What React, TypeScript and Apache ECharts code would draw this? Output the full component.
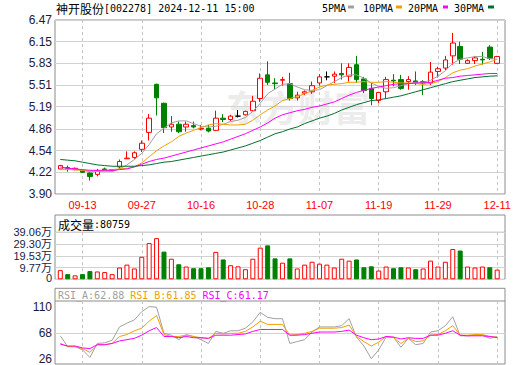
import React, { useEffect, useRef } from 'react';
import * as echarts from 'echarts';

const stockTitle = '神开股份';
const stockCode = '[002278] 2024-12-11 15:00';

const dates = ['09-10','09-11','09-12','09-13','09-18','09-19','09-20','09-23','09-24','09-25','09-26','09-27','09-30','10-08','10-09','10-10','10-11','10-14','10-15','10-16','10-17','10-18','10-21','10-22','10-23','10-24','10-25','10-28','10-29','10-30','10-31','11-01','11-04','11-05','11-06','11-07','11-08','11-11','11-12','11-13','11-14','11-15','11-18','11-19','11-20','11-21','11-22','11-25','11-26','11-27','11-28','11-29','12-02','12-03','12-04','12-05','12-06','12-09','12-10','12-11'];

const opens = [4.27,4.29,4.26,4.25,4.21,4.19,4.27,4.25,4.30,4.42, 4.44,4.56,4.81,5.52,5.24,4.89,4.93,4.89,4.91,4.86, 4.87,4.84,5.02,5.00,5.05,5.07,5.13,5.31,5.66,5.54, 5.58,5.53,5.32,5.39,5.41,5.54,5.63,5.64,5.68,5.64, 5.81,5.60,5.46,5.28,5.41,5.58,5.59,5.56,5.57,5.56, 5.54,5.71,5.76,5.94,6.08,5.83,5.87,5.89,6.07,5.83];
const closes = [4.32,4.27,4.28,4.22,4.16,4.24,4.26,4.26,4.38,4.43, 4.51,4.65,5.02,5.32,4.88,4.93,4.82,4.93,4.89,4.87, 4.83,5.02,5.00,5.05,5.05,5.12,5.27,5.61,5.55,5.53, 5.59,5.31,5.36,5.41,5.50,5.63,5.63,5.67,5.66,5.77, 5.59,5.43,5.31,5.40,5.59,5.57,5.46,5.59,5.54,5.54, 5.70,5.75,5.88,6.13,5.89,5.87,5.91,5.88,5.90,5.93];
const lows = [4.26,4.23,4.25,4.21,4.10,4.16,4.25,4.24,4.27,4.42, 4.42,4.52,4.69,5.06,4.80,4.82,4.80,4.82,4.87,4.84, 4.81,4.83,4.96,4.98,5.03,5.06,5.12,5.26,5.51,5.45, 5.50,5.28,5.28,5.36,5.38,5.50,5.58,5.54,5.59,5.56, 5.54,5.39,5.21,5.24,5.31,5.49,5.44,5.44,5.51,5.36, 5.51,5.62,5.73,5.81,5.82,5.82,5.82,5.81,5.88,5.82];
const highs = [4.33,4.32,4.29,4.26,4.22,4.27,4.29,4.27,4.41,4.53, 4.53,4.69,5.08,5.53,5.25,5.05,4.97,4.97,4.97,4.92, 4.92,5.13,5.08,5.07,5.14,5.13,5.35,5.68,5.86,5.61, 5.63,5.69,5.41,5.43,5.56,5.67,5.71,5.71,5.83,5.83, 5.94,5.63,5.54,5.41,5.63,5.67,5.66,5.64,5.71,5.58, 5.85,5.78,5.94,6.28,6.15,5.89,5.94,6.00,6.10,5.94];

const ma5 = [4.27,4.27,4.26,4.25,4.23,4.23,4.23,4.23,4.27,4.33, 4.41,4.50,4.63,4.79,4.87,4.95,4.98,4.98,4.94,4.90, 4.89,4.90,4.93,4.97,4.99,5.03,5.12,5.24,5.38,5.45, 5.52,5.53,5.48,5.44,5.43,5.44,5.50,5.56,5.62,5.66, 5.66,5.61,5.54,5.49,5.46,5.47,5.50,5.53,5.55,5.55, 5.58,5.64,5.72,5.83,5.89,5.91,5.93,5.93,5.90,5.89];
const ma10 = [4.26,4.26,4.26,4.25,4.24,4.24,4.25,4.26,4.27,4.28, 4.30,4.36,4.45,4.54,4.61,4.67,4.75,4.80,4.84,4.88, 4.92,4.94,4.93,4.92,4.92,4.93,4.99,5.07,5.14,5.20, 5.28,5.31,5.34,5.38,5.43,5.48,5.51,5.52,5.53,5.55, 5.55,5.56,5.55,5.55,5.56,5.55,5.54,5.54,5.53,5.52, 5.53,5.56,5.62,5.69,5.73,5.75,5.79,5.82,5.85,5.89];
const ma20 = [4.30,4.28,4.27,4.26,4.25,4.25,4.25,4.25,4.26,4.27, 4.30,4.34,4.38,4.41,4.43,4.46,4.49,4.52,4.55,4.58, 4.61,4.64,4.67,4.71,4.75,4.79,4.84,4.89,4.95,5.02, 5.07,5.10,5.13,5.15,5.18,5.20,5.23,5.26,5.31,5.36, 5.40,5.43,5.46,5.48,5.50,5.52,5.53,5.53,5.54,5.54, 5.55,5.58,5.61,5.62,5.64,5.65,5.66,5.67,5.68,5.68];
const ma30 = [4.41,4.40,4.39,4.37,4.35,4.33,4.32,4.31,4.31,4.31, 4.31,4.32,4.33,4.35,4.37,4.38,4.40,4.42,4.44,4.46, 4.48,4.50,4.52,4.55,4.58,4.61,4.65,4.69,4.74,4.79, 4.82,4.86,4.89,4.94,4.98,5.02,5.05,5.09,5.14,5.18, 5.22,5.25,5.28,5.29,5.31,5.33,5.35,5.38,5.41,5.44, 5.47,5.50,5.53,5.56,5.58,5.60,5.62,5.63,5.64,5.645];

const volumes = [76000,43000,33000,43000,68000,65000,60000,43000,98000,122000, 90000,187000,301000,342000,230000,171000,125000,106000,92000,92000, 100000,228000,165000,117000,108000,84000,171000,263000,282000,174000, 138000,174000,90000,122000,146000,130000,122000,98000,171000,155000, 165000,100000,108000,73000,106000,92000,100000,98000,84000,90000, 155000,106000,146000,252000,239000,106000,98000,106000,100000,80759];
// 1 = rose versus the previous close (red bar), 0 = fell (green bar)
const volumeUp = [1,0,1,0,0,1,1,1,1,1, 1,1,1,1,0,1,0,1,0,0, 0,1,0,1,1,1,1,1,0,0, 1,0,1,1,1,1,1,1,1,1, 0,0,0,1,1,0,0,1,0,1, 1,1,1,1,0,1,1,1,0,1];

const rsiA = [64,47,47,42,30,52,53,57,78,84, 89,102,110,109,68,65,58,66,63,58, 52,71,68,72,72,76,86,101,93,91, 91,52,55,58,70,78,78,78,80,91, 62,48,28,42,62,62,46,60,50,52, 70,72,80,94,64,64,65,65,60,62.88];
const rsiB = [52,47,47,44,38,50,50,52,63,66, 72,76,87,96,66,63,63,65,63,61, 60,68,67,68,68,71,78,87,82,82, 82,65,66,68,71,76,76,76,77,81, 63,55,48,54,63,61,52,60,55,56, 65,66,72,80,65,65,66,66,63,61.85];
const rsiC = [51,48,48,45,44,50,50,52,56,58, 60,65,72,77,63,63,61,63,61,61, 60,65,65,65,66,67,71,74,74,74, 74,65,65,66,68,70,70,70,71,73, 65,61,58,59,63,62,59,61,60,60, 65,65,68,72,65,64,64,64,63,61.17];

const priceTicks = [3.90, 4.22, 4.54, 4.86, 5.19, 5.51, 5.83, 6.15, 6.47];
const volumeTicks = [0, 97650, 195300, 292950, 390600];
const volumeTickLabels = ['0', '9.77万', '19.53万', '29.30万', '39.06万'];
const rsiTicks = [26, 68, 110];
const rsiRange = [19.7, 118.8];

const C_UP = '#ff0000';
const C_DOWN = '#008000';
const C_MA5 = '#a0a0a0';
const C_MA10 = '#f0a000';
const C_MA20 = '#ff00ff';
const C_MA30 = '#00702e';
const C_FRAME = '#8c8c8c';
const C_GRID = '#d2d2d2';
const C_DASH = '#c4c4c4';
const C_YLABEL = '#1a1a40';
const MONO = "'DejaVu Sans Mono', monospace";
const CJK = "'Noto Sans CJK SC', sans-serif";
const SANS = "'Liberation Sans', Arial, sans-serif";

const every8 = (i: number) => (i - 3) % 8 === 0;

export default function App() {
  const ref = useRef<HTMLDivElement>(null);
  useEffect(() => {
    if (!ref.current) return;
    const chart = echarts.init(ref.current, undefined, { renderer: 'svg' });

    const candleData = dates.map((_, i) => {
      const item: any = { value: [opens[i], closes[i], lows[i], highs[i]] };
      if (opens[i] === closes[i]) {
        item.itemStyle = { color: '#000', color0: '#000', borderColor: '#000', borderColor0: '#000' };
      }
      return item;
    });
    const volData = volumes.map((v, i) => ({
      value: v,
      itemStyle: volumeUp[i]
        ? { color: '#ffffff', borderColor: C_UP, borderWidth: 1 }
        : { color: C_DOWN, borderColor: C_DOWN, borderWidth: 1 },
    }));

    const frameL = 55, frameW = 450;
    const dataL = 60.3, dataW = 436.9;
    const volTop = 232.3, volH = 47;
    const volMax = volumeTicks[volumeTicks.length - 1];

    const hiddenValueX = (g: number) => ({ type: 'value', gridIndex: g, show: false, min: 0, max: 1 });
    const catX = (g: number, labels: boolean) => ({
      type: 'category', gridIndex: g, data: dates, boundaryGap: false,
      axisLine: { show: false }, axisTick: { show: false },
      axisLabel: labels
        ? { show: true, interval: every8, color: C_UP, fontSize: 11, fontFamily: SANS, margin: 5 }
        : { show: false },
      splitLine: { show: true, interval: every8, lineStyle: { color: C_DASH, type: [3, 3], width: 1 } },
    });

    const lastRsi = (a: number[]) => a[a.length - 1].toFixed(2);
    const lastVol = volumes[volumes.length - 1];
    const volLabel = (v: number) => {
      let k = 0;
      volumeTicks.forEach((t, j) => { if (Math.abs(t - v) < Math.abs(volumeTicks[k] - v)) k = j; });
      return volumeTickLabels[k];
    };

    const option: any = {
      animation: false,
      backgroundColor: '#ffffff',
      grid: [
        { left: frameL, top: 20, width: frameW, height: 174, show: true, borderColor: C_FRAME, borderWidth: 1, backgroundColor: 'transparent' },
        { left: dataL, top: 20, width: dataW, height: 174 },
        { left: frameL, top: volTop, width: frameW, height: volH },
        { left: dataL, top: volTop, width: dataW, height: volH },
        { left: frameL, top: 301, width: frameW, height: 63 },
        { left: dataL, top: 301, width: dataW, height: 63 },
      ],
      xAxis: [hiddenValueX(0), catX(1, true), hiddenValueX(2), catX(3, false), hiddenValueX(4), catX(5, false)],
      yAxis: [
        {
          type: 'value', gridIndex: 0, min: priceTicks[0], max: priceTicks[priceTicks.length - 1],
          axisLine: { show: false },
          axisTick: { show: false, customValues: priceTicks },
          axisLabel: { customValues: priceTicks, formatter: (v: number) => v.toFixed(2), color: C_YLABEL, fontSize: 12, fontFamily: SANS, margin: 3 },
          splitLine: { show: true, lineStyle: { color: C_GRID, width: 1 } },
        },
        { type: 'value', gridIndex: 1, min: priceTicks[0], max: priceTicks[priceTicks.length - 1], show: false },
        {
          type: 'value', gridIndex: 2, min: 0, max: volMax,
          axisLine: { show: false },
          axisTick: { show: false, customValues: volumeTicks },
          axisLabel: {
            customValues: volumeTicks.slice(1),
            showMinLabel: true, showMaxLabel: true, hideOverlap: false,
            formatter: volLabel,
            color: C_YLABEL, fontSize: 11, lineHeight: 10, fontFamily: `${SANS}, 'Noto Sans CJK SC'`, margin: 3,
          },
          splitLine: { show: true, lineStyle: { color: C_GRID, width: 1 } },
        },
        { type: 'value', gridIndex: 3, min: 0, max: volMax, show: false },
        {
          type: 'value', gridIndex: 4, min: rsiRange[0], max: rsiRange[1],
          axisLine: { show: false },
          axisTick: { show: false, customValues: [rsiTicks[1]] },
          axisLabel: { customValues: rsiTicks, color: C_YLABEL, fontSize: 12, fontFamily: SANS, margin: 3 },
          splitLine: { show: true, lineStyle: { color: C_GRID, width: 1 } },
        },
        { type: 'value', gridIndex: 5, min: rsiRange[0], max: rsiRange[1], show: false },
      ],
      series: [
        {
          type: 'candlestick', name: 'K', xAxisIndex: 1, yAxisIndex: 1, data: candleData, barWidth: 5, clip: false,
          itemStyle: { color: '#ffffff', color0: C_DOWN, borderColor: C_UP, borderColor0: C_DOWN, borderWidth: 1 },
        },
        { type: 'line', name: '5PMA', xAxisIndex: 1, yAxisIndex: 1, data: ma5, symbol: 'none', lineStyle: { color: C_MA5, width: 1 }, z: 3 },
        { type: 'line', name: '10PMA', xAxisIndex: 1, yAxisIndex: 1, data: ma10, symbol: 'none', lineStyle: { color: C_MA10, width: 1 }, z: 3 },
        { type: 'line', name: '20PMA', xAxisIndex: 1, yAxisIndex: 1, data: ma20, symbol: 'none', lineStyle: { color: C_MA20, width: 1 }, z: 3 },
        { type: 'line', name: '30PMA', xAxisIndex: 1, yAxisIndex: 1, data: ma30, symbol: 'none', lineStyle: { color: C_MA30, width: 1 }, z: 3 },
        { type: 'bar', name: '成交量', xAxisIndex: 3, yAxisIndex: 3, data: volData, barWidth: 5, clip: false },
        { type: 'line', name: 'RSI_A', xAxisIndex: 5, yAxisIndex: 5, data: rsiA, symbol: 'none', lineStyle: { color: C_MA5, width: 1 } },
        { type: 'line', name: 'RSI_B', xAxisIndex: 5, yAxisIndex: 5, data: rsiB, symbol: 'none', lineStyle: { color: C_MA10, width: 1 } },
        { type: 'line', name: 'RSI_C', xAxisIndex: 5, yAxisIndex: 5, data: rsiC, symbol: 'none', lineStyle: { color: C_MA20, width: 1 } },
      ],
      graphic: [
        // watermark
        { type: 'text', x: 226, y: 106, z: -1, silent: true, style: { text: '东方财富', fontSize: 36, fontWeight: 'bold', fontFamily: CJK, fill: '#ececec', verticalAlign: 'middle' } },
        // title
        {
          type: 'text', x: 56, y: 8,
          style: {
            text: `{c|${stockTitle}}{m|${stockCode}}`, verticalAlign: 'middle',
            rich: { c: { fontFamily: CJK, fontSize: 12, fill: '#000' }, m: { fontFamily: MONO, fontSize: 10, fill: '#000' } },
          },
        },
        // legend
        { type: 'text', x: 322, y: 8, style: { text: '5PMA', fontFamily: MONO, fontSize: 10, fill: '#000', verticalAlign: 'middle' } },
        { type: 'rect', shape: { x: 348, y: 5.5, width: 6, height: 3 }, style: { fill: C_MA5 } },
        { type: 'text', x: 363, y: 8, style: { text: '10PMA', fontFamily: MONO, fontSize: 10, fill: '#000', verticalAlign: 'middle' } },
        { type: 'rect', shape: { x: 396, y: 5.5, width: 6, height: 3 }, style: { fill: C_MA10 } },
        { type: 'text', x: 408, y: 8, style: { text: '20PMA', fontFamily: MONO, fontSize: 10, fill: '#000', verticalAlign: 'middle' } },
        { type: 'rect', shape: { x: 443, y: 5.5, width: 5, height: 3 }, style: { fill: C_MA20 } },
        { type: 'text', x: 454, y: 8, style: { text: '30PMA', fontFamily: MONO, fontSize: 10, fill: '#000', verticalAlign: 'middle' } },
        { type: 'rect', shape: { x: 488, y: 5.5, width: 6, height: 3 }, style: { fill: C_MA30 } },
        // volume panel frame
        { type: 'rect', shape: { x: 55, y: 215, width: 450, height: 64.3 }, style: { fill: 'none', stroke: C_FRAME, lineWidth: 1 } },
        { type: 'line', shape: { x1: 55, y1: volTop, x2: 505, y2: volTop }, style: { stroke: C_FRAME, lineWidth: 1 } },
        // zero label of the volume axis (the axis hides it next to its neighbour)
        { type: 'text', x: 52, y: volTop + volH - 1, style: { text: volumeTickLabels[0], fontFamily: SANS, fontSize: 11, fill: C_YLABEL, align: 'right', verticalAlign: 'middle' } },
        {
          type: 'text', x: 58, y: 224,
          style: {
            text: `{c|成交量}{m|:${lastVol}}`, verticalAlign: 'middle',
            rich: { c: { fontFamily: CJK, fontSize: 12, fill: '#000' }, m: { fontFamily: MONO, fontSize: 10, fill: '#000' } },
          },
        },
        // RSI panel frame
        { type: 'rect', shape: { x: 55, y: 288.3, width: 450, height: 75.7 }, style: { fill: 'none', stroke: C_FRAME, lineWidth: 1 } },
        { type: 'line', shape: { x1: 55, y1: 301, x2: 505, y2: 301 }, style: { stroke: C_FRAME, lineWidth: 1 } },
        {
          type: 'text', x: 58, y: 295,
          style: {
            text: `{a|RSI_A:${lastRsi(rsiA)} }{b|RSI_B:${lastRsi(rsiB)} }{c|RSI_C:${lastRsi(rsiC)}}`, verticalAlign: 'middle',
            rich: {
              a: { fontFamily: MONO, fontSize: 10, fill: C_MA5 },
              b: { fontFamily: MONO, fontSize: 10, fill: C_MA10 },
              c: { fontFamily: MONO, fontSize: 10, fill: C_MA20 },
            },
          },
        },
      ],
    };
    chart.setOption(option);
    return () => chart.dispose();
  }, []);
  return <div ref={ref} style={{ position: 'fixed', left: 0, top: 0, width: 520, height: 365, background: '#fff' }} />;
}
